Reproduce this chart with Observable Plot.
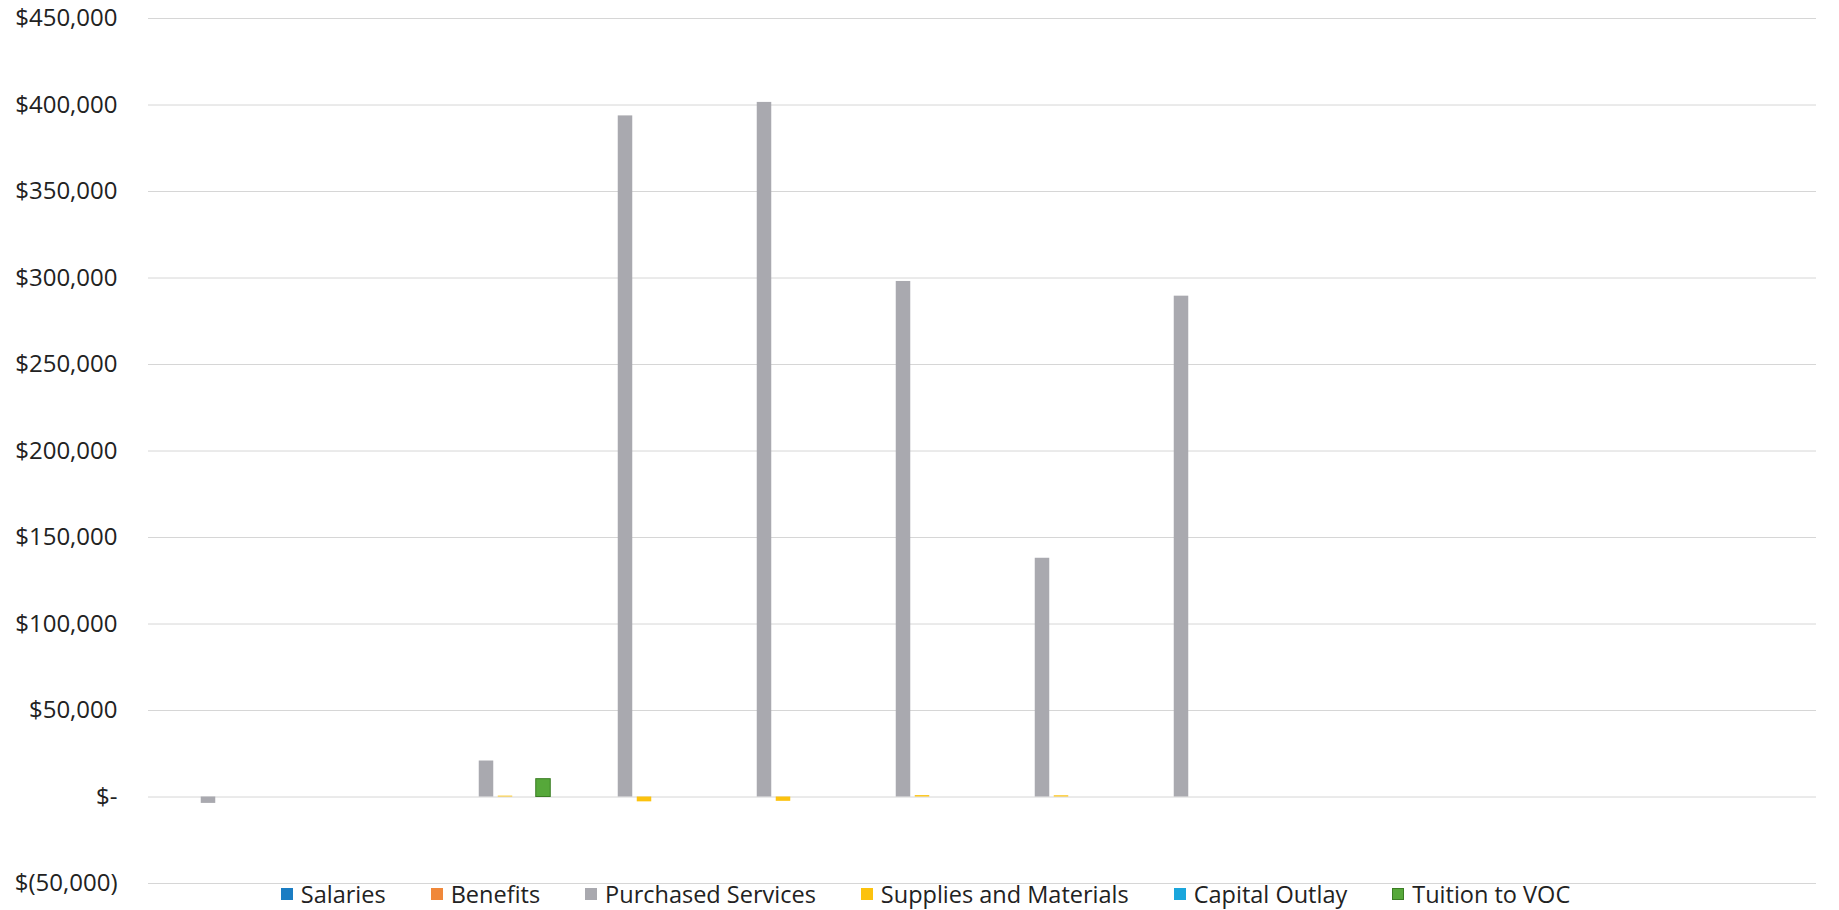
<!DOCTYPE html>
<html>
<head>
<meta charset="utf-8">
<script src="https://cdn.jsdelivr.net/npm/d3@7"></script>
<script src="https://cdn.jsdelivr.net/npm/@observablehq/plot@0.6"></script>
<style>
  html, body { margin: 0; padding: 0; background: #fff; }
  #wrap { position: relative; width: 1839px; height: 910px; }
  #chart svg { display: block; }
  #legend {
    position: absolute; left: 0; width: 1839px; top: 881px;
    display: flex; justify-content: center; align-items: center;
    column-gap: 45px; height: 26px;
    font-family: "Open Sans", sans-serif; font-size: 23.5px; color: #222;
    padding-left: 12px; box-sizing: border-box;
  }
  #legend .item { display: flex; align-items: center; white-space: nowrap; }
  #legend .sw { width: 12px; height: 12px; margin-right: 8px; box-sizing: border-box; }
</style>
</head>
<body>
<div id="wrap">
<div id="chart"></div>
<div id="legend"></div>
</div>
<script>
// Categories (months of the fiscal year; no labels shown in the reference)
const months = ["Jul", "Aug", "Sep", "Oct", "Nov", "Dec", "Jan", "Feb", "Mar", "Apr", "May", "Jun"];

// Series names and values
const seriesNames = ["Salaries", "Benefits", "Purchased Services", "Supplies and Materials", "Capital Outlay", "Tuition to VOC"];
const salaries  = [0, 0, 0, 0, 0, 0, 0, 0, 0, 0, 0, 0];
const benefits  = [0, 0, 0, 0, 0, 0, 0, 0, 0, 0, 0, 0];
const purchased = [-3700, 0, 20800, 393700, 401500, 298000, 138000, 289500, 0, 0, 0, 0];
const supplies  = [0, 0, 500, -2800, -2500, 800, 700, 0, 0, 0, 0, 0];
const capital   = [0, 0, 0, 0, 0, 0, 0, 0, 0, 0, 0, 0];
const tuition   = [0, 0, 10300, 0, 0, 0, 0, 0, 0, 0, 0, 0];

// Y-axis ticks
const yTicks = [-50000, 0, 50000, 100000, 150000, 200000, 250000, 300000, 350000, 400000, 450000];

const seriesValues = [salaries, benefits, purchased, supplies, capital, tuition];
const colors = ["#1b7dc3", "#f0883a", "#a9a9af", "#fcc20e", "#1aa6dc", "#56a83a"];
const strokes = [null, null, null, null, null, "#3b7d24"];

const W = 1839, H = 910, mL = 148, mR = 23, mT = 18, mB = 27;
const bandW = (W - mL - mR) / months.length;
const barW = 14.5, step = 19;

const fmt = d3.format(",");
const yFormat = d => d === 0 ? "$-" : d < 0 ? `$(${fmt(-d)})` : `$${fmt(d)}`;

const marks = [
  Plot.ruleY(yTicks, {stroke: "#d6d6d6", strokeWidth: 1})
];
seriesValues.forEach((vals, i) => {
  const data = months.map((m, j) => ({month: m, value: vals[j], series: seriesNames[i]}));
  marks.push(Plot.barY(data, {
    x: "month", y: "value",
    fill: colors[i],
    stroke: strokes[i] || undefined,
    strokeWidth: strokes[i] ? 1 : undefined,
    dx: (i - 2.5) * step,
    insetLeft: (bandW - barW) / 2,
    insetRight: (bandW - barW) / 2
  }));
});

const chart = Plot.plot({
  width: W, height: H,
  marginLeft: mL, marginRight: mR, marginTop: mT, marginBottom: mB,
  style: {fontFamily: "'Open Sans', sans-serif", fontSize: "24px", color: "#222", background: "#fff"},
  x: {domain: months, padding: 0, axis: null},
  y: {domain: [-50000, 450000], ticks: yTicks, tickFormat: yFormat, tickSize: 0, tickPadding: 31, label: null},
  marks
});
document.getElementById("chart").appendChild(chart);

const legend = document.getElementById("legend");
seriesNames.forEach((name, i) => {
  const item = document.createElement("div");
  item.className = "item";
  const sw = document.createElement("div");
  sw.className = "sw";
  sw.style.background = colors[i];
  if (strokes[i]) sw.style.border = `1px solid ${strokes[i]}`;
  const t = document.createElement("span");
  t.textContent = name;
  item.appendChild(sw);
  item.appendChild(t);
  legend.appendChild(item);
});
</script>
</body>
</html>
